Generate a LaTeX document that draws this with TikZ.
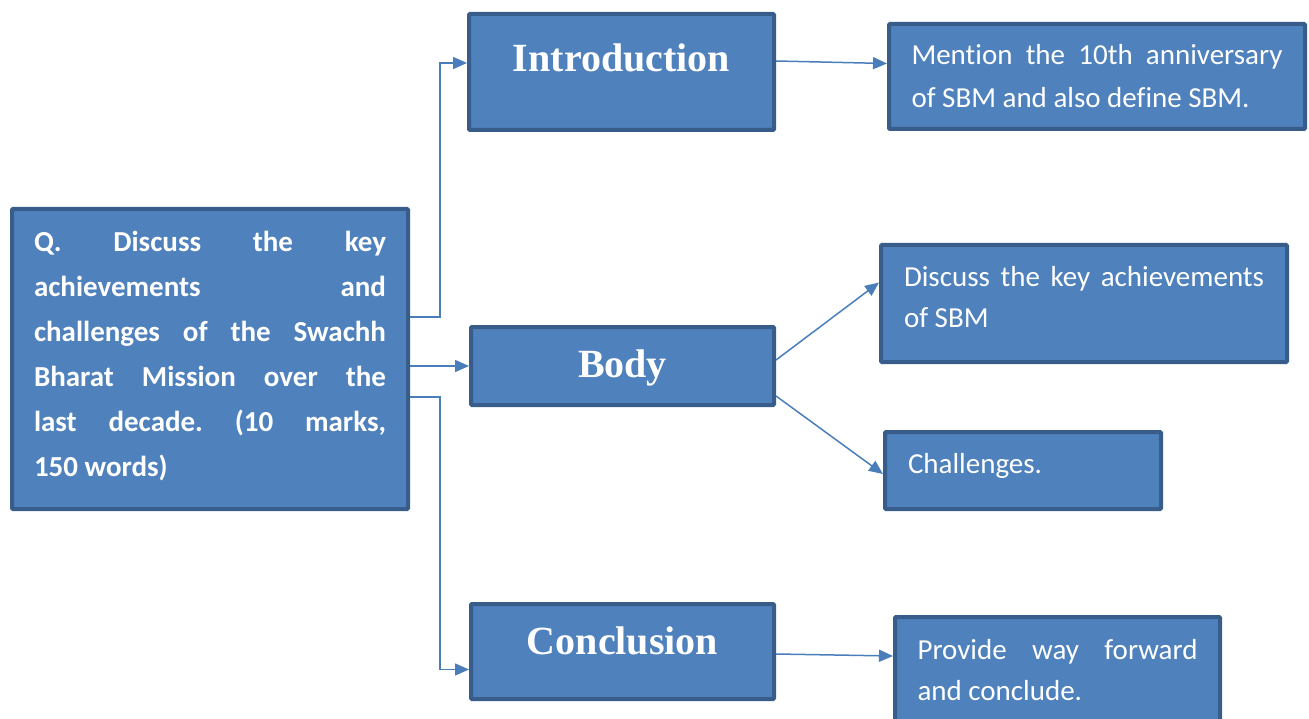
\documentclass[tikz,border=0pt]{standalone}
\usepackage{fontspec}
\setmainfont{Carlito}[Ligatures={NoCommon}]
\newfontfamily\headfont{Liberation Serif}
\usetikzlibrary{arrows.meta}
\definecolor{boxfill}{HTML}{4F81BD}
\definecolor{boxline}{HTML}{385D8A}
\definecolor{linkcol}{HTML}{4A7EBB}
\frenchspacing
\begin{document}
\begin{tikzpicture}[x=1pt, y=-1pt,
  box/.style={rectangle, draw=boxline, fill=boxfill, line width=4pt, rounded corners=1pt, text=white},
  txtbox/.style={box, align=justify, font=\fontsize{29}{43}\selectfont, inner ysep=0pt},
  headbox/.style={box, inner sep=0pt, font=\headfont\bfseries\fontsize{40}{44}\selectfont},
  conn/.style={draw=linkcol, line width=1.5pt, -{Triangle[length=14pt,width=12pt]}}]
\useasboundingbox (0,0) rectangle (1309,719);
% question
\node[txtbox, text width=352pt, inner xsep=22pt, minimum height=300pt, font=\bfseries\fontsize{29}{45}\selectfont] (q) at (210,359)
  {Q.\ Discuss the key\linebreak achievements and\linebreak challenges of the Swachh\linebreak Bharat Mission over the\linebreak last decade. (10 marks,\linebreak 150 words)\par\vspace*{6pt}};
% headings
\node[headbox, minimum width=305pt, text height=58pt, text depth=58pt] (intro) at (621.5,72) {Introduction};
\node[headbox, minimum width=303pt, text height=50pt, text depth=28pt] (body) at (622.5,366) {Body};
\node[headbox, minimum width=303pt, text height=50pt, text depth=45pt] (concl) at (622.5,651.5) {Conclusion};
% points
\node[txtbox, text width=371pt, inner xsep=22.5pt, minimum height=105pt] (mention) at (1097,76.5)
  {Mention the 10th anniversary\linebreak of SBM and also define SBM.};
\node[txtbox, text width=360pt, inner xsep=23pt, minimum height=117pt, font=\fontsize{29}{41}\selectfont] (achieve) at (1084,303.5)
  {Discuss the key achievements\linebreak of SBM\par\vspace*{13pt}};
\node[txtbox, text width=230pt, inner xsep=23pt, minimum height=77pt] (challenge) at (1023,470.5)
  {Challenges.\par\vspace*{10pt}};
\node[txtbox, text width=280pt, inner xsep=22.5pt, minimum height=110pt, font=\fontsize{29}{41}\selectfont] (provide) at (1057.5,672)
  {Provide way forward\linebreak and conclude.\par\vspace*{4pt}};
% links
\draw[conn]([yshift=42pt]q.east) -- ++(30,0) |- ([yshift=9pt]intro.west);
\draw[conn](q.east |- body.west) -- (body.west);
\draw[conn]([yshift=-38pt]q.east) -- ++(30,0) |- ([yshift=-18pt]concl.west);
\draw[conn]([yshift=11pt]intro.east) -- ([yshift=13pt]mention.west);
\draw[conn]([yshift=6pt]body.east) -- ([yshift=21pt]achieve.west);
\draw[conn]([yshift=-30pt]body.east) -- ([yshift=-3.5pt]challenge.west);
\draw[conn]([yshift=-2.5pt]concl.east) -- ([yshift=16pt]provide.west);
\end{tikzpicture}
\end{document}
